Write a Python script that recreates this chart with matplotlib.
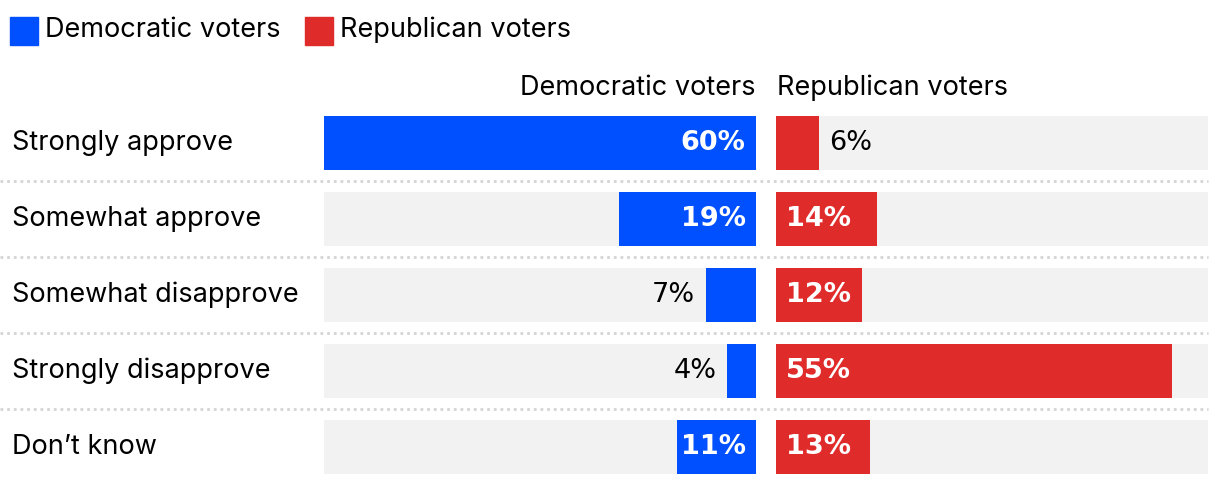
import matplotlib.pyplot as plt
from matplotlib.patches import Rectangle
from matplotlib.lines import Line2D
from matplotlib.transforms import blended_transform_factory

# данные опроса
categories = ["Strongly approve", "Somewhat approve", "Somewhat disapprove",
              "Strongly disapprove", "Don\u2019t know"]
dem_values = [60, 19, 7, 4, 11]
rep_values = [6, 14, 12, 55, 13]
series_names = ["Democratic voters", "Republican voters"]

BLUE = "#0050ff"
RED = "#e02b2b"
BG = "#f2f2f2"
SEP = "#d4d4d4"
LABEL_FONT = "Inter"
NUM_FONT = "DejaVu Sans"

W, H = 1220, 486
fig = plt.figure(figsize=(W / 100, H / 100), dpi=100)


def px_box(x0, x1, y_top, y_bot):
    # пиксели -> доли фигуры
    return [x0 / W, 1 - y_bot / H, (x1 - x0) / W, (y_bot - y_top) / H]


ax_dem = fig.add_axes(px_box(324, 756, 105, 485))
ax_rep = fig.add_axes(px_box(776, 1208, 105, 485))

n = len(categories)
ypos = list(range(n))
xmax = 60
bar_h = 54 / 76

for ax, vals, color, side in [(ax_dem, dem_values, BLUE, "left"),
                              (ax_rep, rep_values, RED, "right")]:
    ax.barh(ypos, [xmax] * n, height=bar_h, color=BG, zorder=1)
    ax.barh(ypos, vals, height=bar_h, color=color, zorder=2)
    ax.set_xlim(0, xmax)
    ax.set_ylim(n - 0.5, -0.5)
    if side == "left":
        ax.invert_xaxis()
    ax.axis("off")

    # подписи: внутри бара если значение большое, иначе снаружи
    for y, v in zip(ypos, vals):
        if side == "left":
            ha, off = "right", -7.5
        else:
            ha, off = "left", 7.5
        if v >= 10:
            ax.annotate(f"{v}%", xy=(0, y), xytext=(off, 0),
                        textcoords="offset points", ha=ha, va="center",
                        fontsize=19.5, fontweight="bold", color="white",
                        family=NUM_FONT, zorder=3)
        else:
            ax.annotate(f"{v}%", xy=(v, y), xytext=(off, 0),
                        textcoords="offset points", ha=ha, va="center",
                        fontsize=19.5, color="black",
                        family=NUM_FONT, zorder=3)

# названия категорий
tr = blended_transform_factory(fig.transFigure, ax_dem.transData)
for y, cat in zip(ypos, categories):
    ax_dem.text(12 / W, y, cat, transform=tr, ha="left", va="center",
                fontsize=19.5, family=LABEL_FONT, color="black")

# разделители
for y in [i + 0.5 for i in range(n - 1)]:
    fig.add_artist(Line2D([0, 1208 / W], [y, y], transform=tr, color=SEP,
                          linewidth=2.0, linestyle=(0, (1, 1.4))))

# заголовки колонок
fig.text(755 / W, 1 - 88 / H, series_names[0], ha="right", va="center",
         fontsize=19.5, family=LABEL_FONT)
fig.text(777 / W, 1 - 88 / H, series_names[1], ha="left", va="center",
         fontsize=19.5, family=LABEL_FONT)

# легенда
for x0, name, color in [(10, series_names[0], BLUE), (305, series_names[1], RED)]:
    fig.add_artist(Rectangle((x0 / W, 1 - 45 / H), 28 / W, 28 / H,
                             transform=fig.transFigure, color=color))
    fig.text((x0 + 35) / W, 1 - 30 / H, name, ha="left", va="center",
             fontsize=19.5, family=LABEL_FONT)

fig.savefig("out.png", dpi=100)
